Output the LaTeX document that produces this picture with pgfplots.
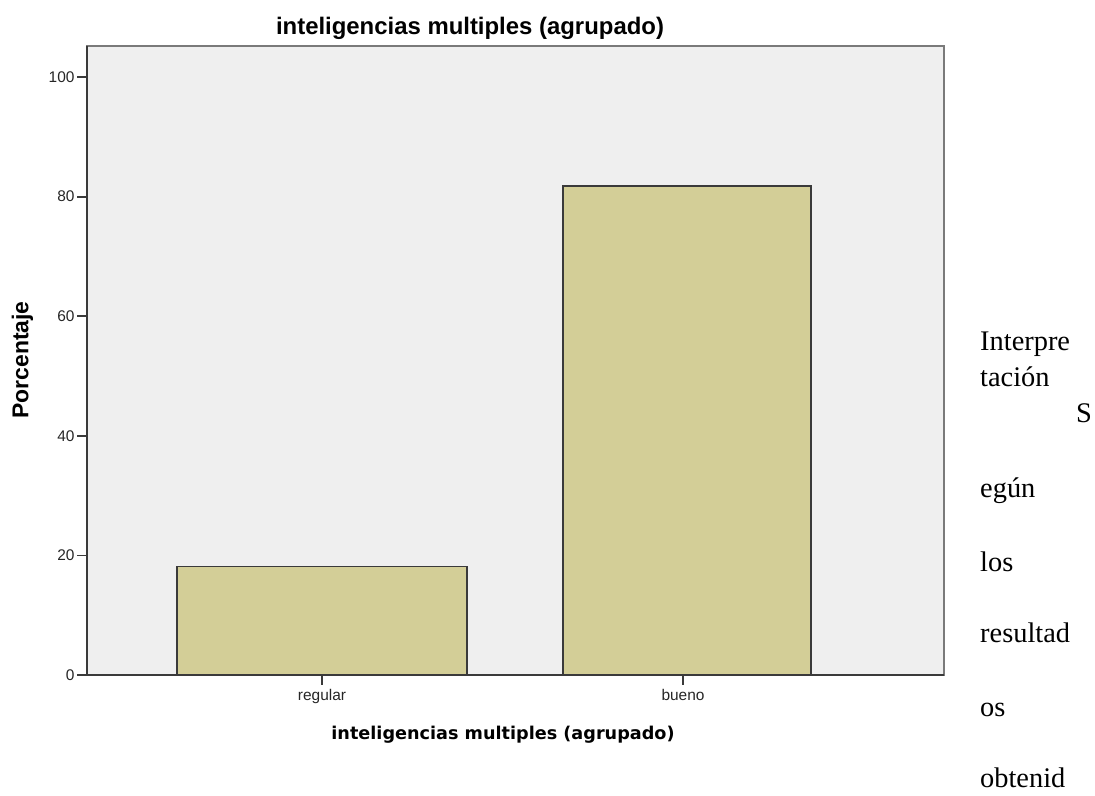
\documentclass[border=0pt]{standalone}
\usepackage{pgfplots}
\pgfplotsset{compat=1.18}
\usepackage{fontspec}
\setmainfont{Liberation Sans}
\newfontfamily\serifrm{Liberation Serif}
\newfontfamily\dvbold{DejaVu Sans Bold}
\definecolor{plotbg}{HTML}{EFEFEF}
\definecolor{barfill}{HTML}{D3CE97}
\definecolor{baredge}{HTML}{3A3A3A}
\definecolor{axdark}{HTML}{3A3A3A}
\definecolor{axlight}{HTML}{7A7A7A}
\begin{document}
\begin{tikzpicture}[x=1bp,y=1bp]
\path[use as bounding box] (0,0) rectangle (1095,796);
\begin{axis}[
  at={(87bp,121bp)}, anchor=south west,
  scale only axis, width=857bp, height=629bp,
  xmin=-0.651, xmax=1.723, ymin=0, ymax=105.2,
  axis background/.style={fill=plotbg},
  axis line style={draw=axlight, line width=1.4bp},
  xtick={0,1}, xticklabels={regular,bueno},
  ytick={0,20,40,60,80,100},
  tick align=outside, major tick length=10bp,
  every tick/.append style={draw=axdark, line width=1.8bp},
  xtick pos=bottom, ytick pos=left,
  /pgf/number format/assume math mode=true,
  ticklabel style={font=\fontsize{15.5}{18}\selectfont, text=black!85},
  xticklabel style={yshift=-1bp},
  yticklabel style={xshift=1bp},
  clip=false,
]
\addplot[ybar, bar width=0.803, bar shift=0pt, fill=barfill, draw=baredge, line width=1.3bp] coordinates {(0,18.2)};
\addplot[ybar, bar width=0.687, bar shift=4bp, fill=barfill, draw=baredge, line width=1.3bp] coordinates {(1,81.8)};
\draw[axdark, line width=1.6bp] (rel axis cs:0,1) -- (rel axis cs:0,0) -- (rel axis cs:1,0);
\end{axis}
% titles
\node[anchor=base, font=\bfseries\fontsize{24}{28}\selectfont] at (470,761) {inteligencias multiples (agrupado)};
\node[anchor=base, font=\dvbold\fontsize{17.7}{21}\selectfont] at (503,56) {inteligencias multiples (agrupado)};
\node[rotate=90, font=\bfseries\fontsize{23}{27}\selectfont] at (22.5,436) {Porcentaje};
% surrounding document text
\begin{scope}[every node/.style={anchor=base west, inner sep=0pt, font=\serifrm\fontsize{28.5}{34}\selectfont}]
\node at (980,445) {Interpre};
\node at (980,409) {tación};
\node at (1076,373) {S};
\node at (980,298) {egún};
\node at (980,224) {los};
\node at (980,153) {resultad};
\node at (980,79) {os};
\node at (980,8) {obtenid};
\end{scope}
\end{tikzpicture}
\end{document}
